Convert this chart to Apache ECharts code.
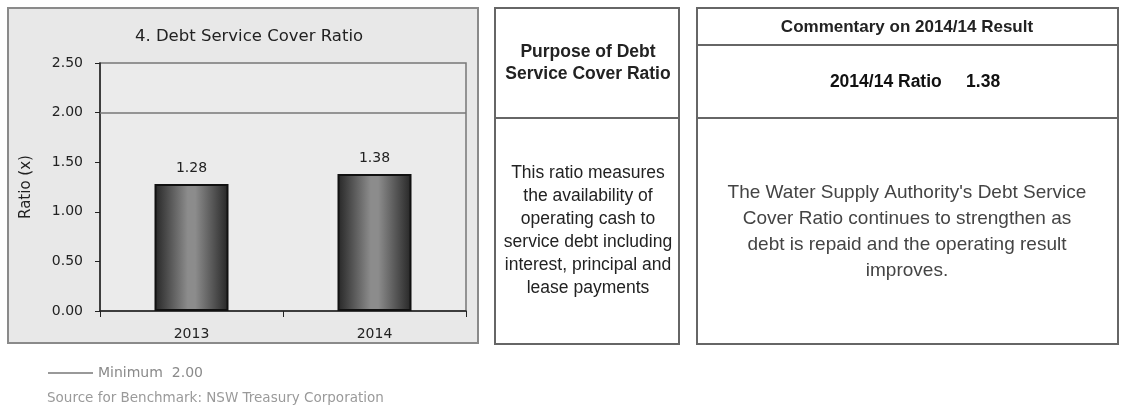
<!DOCTYPE html>
<html>
<head>
<meta charset="utf-8">
<script src="https://cdn.jsdelivr.net/npm/echarts@6/dist/echarts.min.js"></script>
<style>
  html, body { margin: 0; padding: 0; background: #fff; }
  #chart { width: 1123px; height: 412px; }
</style>
</head>
<body>
<div id="chart"></div>
<script>
// chart data
const categories = ['2013', '2014']
const ratios = [1.28, 1.38]
const minimumRatio = 2.0
const yMin = 0
const yMax = 2.5
const yStep = 0.5

const font = '"Liberation Sans", Arial, sans-serif'
// the excel chart text is wide, DejaVu comes closer to it
const chartFont = '"DejaVu Sans", Verdana, sans-serif'

const chart = echarts.init(document.getElementById('chart'), null, { renderer: 'canvas' })

// boxes and text beside the chart
const boxStyle = { fill: '#fff', stroke: '#666', lineWidth: 2 }
const graphics = [
  // chart panel
  { type: 'rect', z: -10, shape: { x: 8, y: 8, width: 470, height: 335 }, style: { fill: '#e8e8e8', stroke: '#8a8a8a', lineWidth: 2 } },
  // purpose panel
  { type: 'rect', shape: { x: 495, y: 8, width: 184, height: 336 }, style: boxStyle },
  { type: 'line', shape: { x1: 495, y1: 118, x2: 679, y2: 118 }, style: { stroke: '#666', lineWidth: 2 } },
  { type: 'text', style: { x: 588, y: 63, text: 'Purpose of Debt\nService Cover Ratio', font: 'bold 17.5px ' + font, fill: '#222', textAlign: 'center', textVerticalAlign: 'middle', lineHeight: 22 } },
  { type: 'text', style: { x: 588, y: 231, text: 'This ratio measures\nthe availability of\noperating cash to\nservice debt including\ninterest, principal and\nlease payments', font: '17.5px ' + font, fill: '#222', textAlign: 'center', textVerticalAlign: 'middle', lineHeight: 23 } },
  // commentary panel
  { type: 'rect', shape: { x: 697, y: 8, width: 421, height: 336 }, style: boxStyle },
  { type: 'line', shape: { x1: 697, y1: 45, x2: 1118, y2: 45 }, style: { stroke: '#666', lineWidth: 2 } },
  { type: 'line', shape: { x1: 697, y1: 118, x2: 1118, y2: 118 }, style: { stroke: '#666', lineWidth: 2 } },
  { type: 'text', style: { x: 907, y: 27, text: 'Commentary on 2014/14 Result', font: 'bold 17px ' + font, fill: '#222', textAlign: 'center', textVerticalAlign: 'middle' } },
  { type: 'text', style: { x: 915, y: 82, text: '2014/14 Ratio     1.38', font: 'bold 17.5px ' + font, fill: '#111', textAlign: 'center', textVerticalAlign: 'middle' } },
  { type: 'text', style: { x: 907, y: 232, text: "The Water Supply Authority's Debt Service\nCover Ratio continues to strengthen as\ndebt is repaid and the operating result\nimproves.", font: '19px ' + font, fill: '#444', textAlign: 'center', textVerticalAlign: 'middle', lineHeight: 26 } },
  // footnote
  { type: 'text', style: { x: 47, y: 398, text: 'Source for Benchmark: NSW Treasury Corporation', font: '13.5px ' + chartFont, fill: '#9a9a9a', textVerticalAlign: 'middle' } }
]

chart.setOption({
  animation: false,
  textStyle: { fontFamily: chartFont },
  title: {
    text: '4. Debt Service Cover Ratio',
    left: 244,
    top: 23,
    textAlign: 'center',
    textStyle: { fontSize: 16.5, fontWeight: 'normal', color: '#222', fontFamily: chartFont }
  },
  legend: {
    left: 43,
    top: 361,
    itemWidth: 45,
    itemHeight: 2,
    itemGap: 2,
    textStyle: { fontSize: 14, color: '#8a8a8a', padding: [0, 0, 0, 0], fontFamily: chartFont },
    data: [{ name: 'Minimum  2.00', icon: 'rect', itemStyle: { color: '#999' } }]
  },
  grid: {
    left: 100,
    right: 657,
    top: 63,
    bottom: 101,
    show: true,
    backgroundColor: '#ebebeb',
    borderColor: '#777',
    borderWidth: 1.5
  },
  xAxis: {
    type: 'category',
    data: categories,
    axisLine: { lineStyle: { color: '#222', width: 1.5 } },
    axisTick: { show: true, length: 6, lineStyle: { color: '#222' } },
    axisLabel: { fontSize: 14, color: '#222', margin: 16 }
  },
  yAxis: {
    type: 'value',
    min: yMin,
    max: yMax,
    interval: yStep,
    name: 'Ratio (x)',
    nameLocation: 'middle',
    nameRotate: 90,
    nameGap: 66,
    nameTextStyle: { fontSize: 15, color: '#222' },
    axisLine: { show: true, lineStyle: { color: '#222', width: 1.5 } },
    axisTick: { show: true, length: 5, lineStyle: { color: '#222' } },
    axisLabel: { fontSize: 14, color: '#222', margin: 17, formatter: v => v.toFixed(2) },
    splitLine: { show: false }
  },
  series: [
    {
      name: 'Ratio',
      type: 'bar',
      data: ratios,
      barWidth: 74,
      itemStyle: {
        color: new echarts.graphic.LinearGradient(0, 0, 1, 0, [
          { offset: 0, color: '#262626' },
          { offset: 0.45, color: '#8c8c8c' },
          { offset: 0.55, color: '#8c8c8c' },
          { offset: 1, color: '#262626' }
        ]),
        borderColor: '#111',
        borderWidth: 2
      },
      label: {
        show: true,
        position: 'top',
        distance: 9,
        fontSize: 14,
        color: '#222',
        formatter: p => p.value.toFixed(2)
      }
    },
    {
      name: 'Minimum  2.00',
      type: 'line',
      data: [],
      symbol: 'none',
      lineStyle: { color: '#999' },
      markLine: {
        silent: true,
        symbol: 'none',
        label: { show: false },
        lineStyle: { color: '#777', width: 1.5, type: 'solid' },
        data: [{ yAxis: minimumRatio }]
      }
    }
  ],
  graphic: graphics
})
</script>
</body>
</html>
